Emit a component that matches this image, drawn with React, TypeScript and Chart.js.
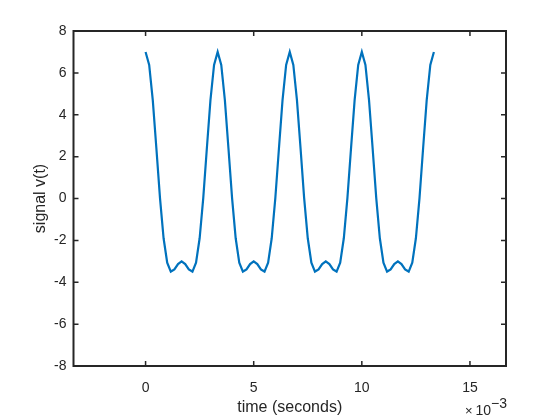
import React, { useEffect, useRef } from "react";
import { Chart, registerables } from "chart.js";

Chart.register(...registerables);

// time in milliseconds (axis shows ×10^-3 seconds)
const timeMs = [
  0, 0.167, 0.333, 0.5, 0.667, 0.833, 1, 1.167, 1.333, 1.5, 1.667, 1.833, 2, 2.167, 2.333, 2.5, 2.667, 2.833, 3, 3.167,
  3.333, 3.5, 3.667, 3.833, 4, 4.167, 4.333, 4.5, 4.667, 4.833, 5, 5.167, 5.333, 5.5, 5.667, 5.833, 6, 6.167, 6.333, 6.5,
  6.667, 6.833, 7, 7.167, 7.333, 7.5, 7.667, 7.833, 8, 8.167, 8.333, 8.5, 8.667, 8.833, 9, 9.167, 9.333, 9.5, 9.667, 9.833,
  10, 10.167, 10.333, 10.5, 10.667, 10.833, 11, 11.167, 11.333, 11.5, 11.667, 11.833, 12, 12.167, 12.333, 12.5, 12.667, 12.833, 13, 13.167,
  13.333,
];

const signalV = [
  7.0, 6.38, 4.7, 2.39, 0.02, -1.9, -3.07, -3.49, -3.39, -3.13, -3.0, -3.13, -3.39, -3.49, -3.07, -1.9, 0.02, 2.39, 4.7, 6.38,
  7.0, 6.38, 4.7, 2.39, 0.02, -1.9, -3.07, -3.49, -3.39, -3.13, -3.0, -3.13, -3.39, -3.49, -3.07, -1.9, 0.02, 2.39, 4.7, 6.38,
  7.0, 6.38, 4.7, 2.39, 0.02, -1.9, -3.07, -3.49, -3.39, -3.13, -3.0, -3.13, -3.39, -3.49, -3.07, -1.9, 0.02, 2.39, 4.7, 6.38,
  7.0, 6.38, 4.7, 2.39, 0.02, -1.9, -3.07, -3.49, -3.39, -3.13, -3.0, -3.13, -3.39, -3.49, -3.07, -1.9, 0.02, 2.39, 4.7, 6.38,
  7.0,
];

const xTicks = [0, 5, 10, 15];
const yTicks = [-8, -6, -4, -2, 0, 2, 4, 6, 8];
const xRange = [-3.333, 16.667];
const yRange = [-8, 8];

const xTitle = "time (seconds)";
const yTitle = "signal v(t)";
const xExponent = "\u22123";

const AXIS_COLOR = "#262626";
const FONT = "'Liberation Sans', Arial, Helvetica, sans-serif";

const matlabAxes = {
  id: "matlabAxes",
  afterDatasetsDraw(chart: any) {
    const { ctx, chartArea, scales } = chart;
    const { left, right, top, bottom } = chartArea;
    const xs = scales.x;
    const ys = scales.y;
    ctx.save();
    ctx.strokeStyle = AXIS_COLOR;
    ctx.lineWidth = 2;
    ctx.strokeRect(left, top, right - left, bottom - top);
    const tl = 5;
    ctx.lineWidth = 1.5;
    ctx.beginPath();
    xTicks.forEach((v) => {
      const px = xs.getPixelForValue(v);
      ctx.moveTo(px, bottom);
      ctx.lineTo(px, bottom - tl);
      ctx.moveTo(px, top);
      ctx.lineTo(px, top + tl);
    });
    yTicks.forEach((v) => {
      const py = ys.getPixelForValue(v);
      ctx.moveTo(left, py);
      ctx.lineTo(left + tl, py);
      ctx.moveTo(right, py);
      ctx.lineTo(right - tl, py);
    });
    ctx.stroke();

    ctx.fillStyle = AXIS_COLOR;
    // x title
    ctx.font = `16px ${FONT}`;
    ctx.textAlign = "center";
    ctx.textBaseline = "middle";
    ctx.fillText(xTitle, (left + right) / 2, 408);
    // y title
    ctx.save();
    ctx.translate(41, (top + bottom) / 2);
    ctx.rotate(-Math.PI / 2);
    ctx.fillText(yTitle, 0, 0);
    ctx.restore();
    // exponent label ×10^-3
    ctx.textAlign = "left";
    ctx.textBaseline = "alphabetic";
    ctx.font = `13px ${FONT}`;
    ctx.fillText("\u00d7", 465, 415);
    ctx.font = `14px ${FONT}`;
    ctx.fillText("10", 475.5, 415);
    ctx.fillText(xExponent, 491, 408);
    ctx.restore();
  },
};

export default function App() {
  const ref = useRef<HTMLCanvasElement | null>(null);
  useEffect(() => {
    if (!ref.current) return;
    const chart = new Chart(ref.current, {
      type: "line",
      data: {
        datasets: [
          {
            data: timeMs.map((t, i) => ({ x: t, y: signalV[i] })),
            borderColor: "#0072BD",
            borderWidth: 2.2,
            pointRadius: 0,
            tension: 0,
            fill: false,
          },
        ],
      },
      options: {
        animation: false,
        responsive: false,
        events: [],
        layout: { padding: { top: 31, right: 54, left: 0, bottom: 0 } },
        plugins: { legend: { display: false }, tooltip: { enabled: false } },
        scales: {
          x: {
            type: "linear",
            min: xRange[0],
            max: xRange[1],
            grid: { display: false, drawTicks: false },
            border: { display: false },
            afterBuildTicks: (s: any) => {
              s.ticks = xTicks.map((v) => ({ value: v }));
            },
            afterFit: (s: any) => {
              s.height = 54;
            },
            ticks: {
              color: AXIS_COLOR,
              font: { family: FONT, size: 14 },
              padding: 14,
              maxRotation: 0,
              callback: (v: any) => String(v),
            },
          },
          y: {
            type: "linear",
            min: yRange[0],
            max: yRange[1],
            grid: { display: false, drawTicks: false },
            border: { display: false },
            afterBuildTicks: (s: any) => {
              s.ticks = yTicks.map((v) => ({ value: v }));
            },
            afterFit: (s: any) => {
              s.width = 73.5;
            },
            ticks: {
              color: AXIS_COLOR,
              font: { family: FONT, size: 14 },
              padding: 7,
              callback: (v: any) => String(v),
            },
          },
        },
      },
      plugins: [matlabAxes],
    });
    return () => chart.destroy();
  }, []);
  return (
    <div style={{ position: "absolute", left: 0, top: 0, width: 560, height: 420, background: "#fff" }}>
      <canvas ref={ref} width={560} height={420} style={{ display: "block" }} />
    </div>
  );
}
